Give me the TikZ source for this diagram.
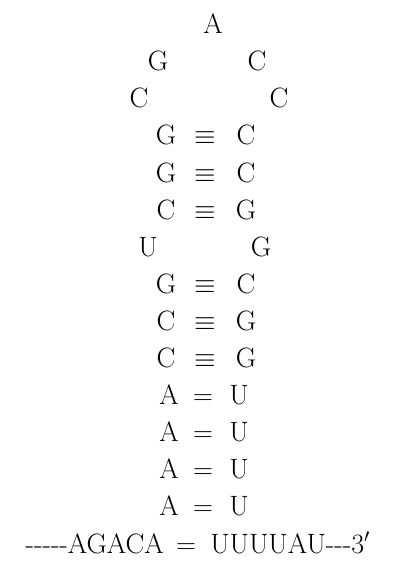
\documentclass[tikz,border=0pt]{standalone}
\usepackage{tikz}

\begin{document}
\begin{tikzpicture}[x=0.75pt,y=-0.75pt,
  nt/.style={font=\fontsize{21}{21}\selectfont,inner sep=0pt,anchor=base}]
\path[use as bounding box] (0,0) rectangle (409,574);

% loop
\node[nt] (a1) at (213,34) {A};
\node[nt] (l2) at (158,71) {G};
\node[nt] (r2) at (257,71) {C};
\node[nt] (l3) at (139,108) {C};
\node[nt] (r3) at (279,108) {C};

% stem with triple bonds
\foreach \i/\l/\r in {4/G/C,5/G/C,6/C/G,8/G/C,9/C/G,10/C/G}{
  \node[nt] (l\i) at (166,{34+37*(\i-1)}) {\l};
  \node[nt] (b\i) at (205,{34+37*(\i-1)}) {$\equiv$};
  \node[nt] (r\i) at (246,{34+37*(\i-1)}) {\r};
}
% bulge
\node[nt] (l7) at (148,256) {U};
\node[nt] (r7) at (261,256) {G};

% stem with double bonds
\foreach \i in {11,...,14}{
  \node[nt] (l\i) at (169,{34+37*(\i-1)}) {A};
  \node[nt] (b\i) at (203,{34+37*(\i-1)}) {$=$};
  \node[nt] (r\i) at (239,{34+37*(\i-1)}) {U};
}

% strand ends
\node[nt] (b15) at (186,553) {$=$};
\node[nt,anchor=base east] (l15) at (164,553) {-{}-{}-{}-{}-AGACA};
\node[nt,anchor=base west] (r15) at (210,553) {UUUUAU-{}-{}-3$'$};
\end{tikzpicture}
\end{document}
